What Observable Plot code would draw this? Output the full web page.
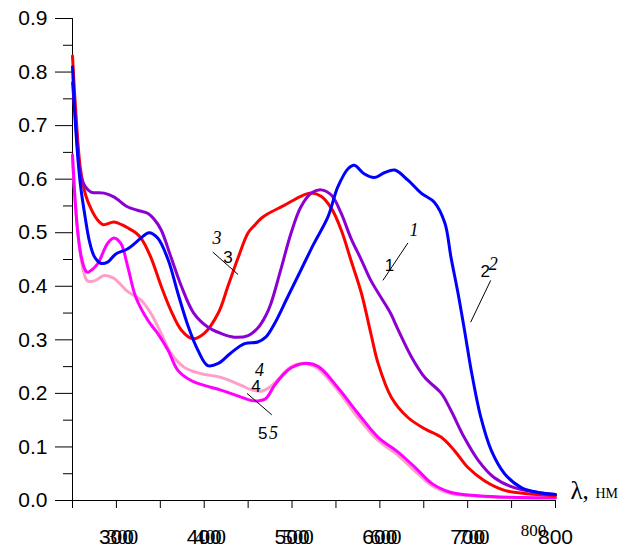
<!DOCTYPE html>
<html>
<head>
<meta charset="utf-8">
<script src="https://cdn.jsdelivr.net/npm/d3@7"></script>
<script src="https://cdn.jsdelivr.net/npm/@observablehq/plot@0.6"></script>
<style>
  html, body { margin: 0; padding: 0; background: #fff; }
  #chart { width: 630px; height: 553px; }
</style>
</head>
<body>
<div id="chart"></div>
<script>
// Curve 1 (violet)
const wl1 = [250,254,259,265,271,286,297,313,324,336,343,351,362,374,388,404,419,434,450,461,470,476,487,499,510,522,533,545,556,567,579,590,601,612,621,636,651,670,681,696,712,730,753,780,800];
const a1  = [0.78,0.70,0.61,0.585,0.576,0.574,0.567,0.548,0.542,0.536,0.525,0.505,0.455,0.40,0.35,0.324,0.312,0.305,0.308,0.322,0.345,0.368,0.43,0.50,0.548,0.574,0.58,0.57,0.536,0.49,0.449,0.41,0.38,0.35,0.318,0.268,0.23,0.20,0.168,0.118,0.075,0.043,0.024,0.015,0.011];
// Curve 2 (blue)
const wl2 = [250,254,259,265,269,275,282,290,299,313,328,337,347,359,370,382,393,404,416,430,446,461,470,480,495,510,525,541,552,564,571,582,594,605,617,632,647,662,674,681,689,697,704,715,727,742,761,780,800];
const a2  = [0.81,0.686,0.59,0.523,0.486,0.455,0.443,0.445,0.46,0.47,0.49,0.50,0.49,0.449,0.387,0.324,0.28,0.252,0.256,0.275,0.293,0.296,0.305,0.33,0.38,0.43,0.48,0.53,0.585,0.62,0.626,0.61,0.603,0.612,0.617,0.598,0.574,0.557,0.518,0.454,0.387,0.312,0.243,0.155,0.093,0.05,0.024,0.015,0.011];
// Curve 3 (red)
const wl3 = [250,254,259,265,271,278,285,297,306,314,322,328,339,351,362,374,387,400,416,427,439,450,458,465,472,491,510,522,533,545,556,567,579,590,598,613,632,651,670,685,700,719,742,765,800];
const a3  = [0.83,0.72,0.62,0.57,0.545,0.525,0.515,0.52,0.515,0.508,0.50,0.49,0.455,0.40,0.355,0.318,0.302,0.312,0.35,0.40,0.455,0.50,0.515,0.527,0.535,0.551,0.568,0.574,0.568,0.545,0.505,0.449,0.387,0.31,0.256,0.193,0.155,0.134,0.118,0.093,0.062,0.037,0.019,0.013,0.009];
// Curve 4 (light pink)
const wl4 = [250,254,259,263,267,275,286,297,313,328,339,351,362,377,396,419,442,453,465,475,484,497,510,520,530,552,575,598,621,640,659,681,712,750,800];
const a4  = [0.64,0.54,0.46,0.425,0.41,0.41,0.42,0.415,0.39,0.374,0.35,0.312,0.275,0.249,0.237,0.23,0.215,0.207,0.204,0.212,0.226,0.248,0.256,0.254,0.246,0.206,0.155,0.112,0.084,0.055,0.028,0.013,0.008,0.005,0.004];
// Curve 5 (magenta)
const wl5 = [250,253,256,260,264,267,273,279,290,297,305,313,322,336,347,359,370,385,400,419,442,453,462,470,480,490,499,514,530,552,575,598,621,640,659,681,712,750,800];
const a5  = [0.645,0.56,0.50,0.455,0.432,0.426,0.432,0.443,0.48,0.49,0.48,0.436,0.38,0.336,0.312,0.28,0.243,0.224,0.215,0.206,0.193,0.187,0.186,0.19,0.215,0.235,0.248,0.256,0.25,0.211,0.163,0.118,0.09,0.062,0.032,0.015,0.009,0.006,0.005];

const seriesNames  = ["1","2","3","4","5"];
const seriesColors = ["#8c00d2","#0000ff","#ff0000","#ff9ec8","#ff00ff"];

// tick labels
const yMajor = [0,0.1,0.2,0.3,0.4,0.5,0.6,0.7,0.8,0.9];
const yMinor = [0.05,0.15,0.25,0.35,0.45,0.55,0.65,0.75,0.85];
const xTicks = [250,300,350,400,450,500,550,600,650,700,750,800];
const xLabels = [300,400,500,600,700,800];

// curve labels (upright sans and italic serif copies) and leader lines
const labUpright = [{t:"1",x:611,y:0.439},{t:"2",x:720,y:0.427},{t:"3",x:427,y:0.454},{t:"4",x:459,y:0.212},{t:"5",x:466.5,y:0.125}];
const labItalic  = [{t:"1",x:639,y:0.505},{t:"2",x:729,y:0.441},{t:"3",x:414.5,y:0.49},{t:"4",x:462.8,y:0.243},{t:"5",x:479,y:0.125}];
const leaders = [
  {x1:603.5,y1:0.411,x2:632,y2:0.481},
  {x1:703.4,y1:0.333,x2:726.2,y2:0.411},
  {x1:409.7,y1:0.464,x2:438.5,y2:0.422},
  {x1:448.7,y1:0.200,x2:476.9,y2:0.160}
];

const curves = [[wl1,a1],[wl2,a2],[wl3,a3],[wl4,a4],[wl5,a5]];
const table = [];
curves.forEach(([w,a],i) => w.forEach((x,j) => table.push({series: seriesNames[i], x, y: a[j]})));
// draw order: pink under magenta
const order = ["4","5","3","1","2"];

const lineMarks = order.map(s => Plot.line(table.filter(d => d.series === s), {
  x: "x", y: "y", stroke: seriesColors[seriesNames.indexOf(s)], strokeWidth: 3, curve: "catmull-rom"
}));

const sans = "Arial, 'Liberation Sans', sans-serif";
const serif = "'Times New Roman', 'Liberation Serif', serif";

const chart = Plot.plot({
  width: 630,
  height: 553,
  marginLeft: 72,
  marginRight: 75,
  marginTop: 18,
  marginBottom: 53,
  style: {fontFamily: sans, background: "#fff", color: "#000"},
  x: {domain: [250, 800]},
  y: {domain: [0, 0.9]},
  marks: [
    Plot.axisY({ticks: yMajor, tickSize: 17, tickPadding: 8, tickFormat: d3.format(".1f"), fontSize: 21, label: null, stroke: "#000"}),
    Plot.axisY({ticks: yMinor, tickSize: 9, tickFormat: () => "", label: null}),
    Plot.axisX({ticks: xTicks, tickSize: 8, tickPadding: 21, fontSize: 21, label: null,
      tickFormat: d => (d % 100 === 0 && d > 250) ? String(d) : ""}),
    Plot.text(xLabels.filter(d => d < 800), {x: d => d, y: 0, dy: 37, dx: 6, text: d => String(d), fontSize: 21, fontFamily: serif, lineAnchor: "middle"}),
    Plot.text([800], {x: d => d, y: 0, dy: 30, dx: -22, text: d => String(d), fontSize: 17, fontFamily: serif, lineAnchor: "middle"}),
    Plot.ruleX([250], {y1: 0, y2: 0.9, stroke: "#000", strokeWidth: 1}),
    Plot.ruleY([0], {stroke: "#000", strokeWidth: 1}),
    ...lineMarks,
    Plot.link(leaders, {x1: "x1", y1: "y1", x2: "x2", y2: "y2", stroke: "#000", strokeWidth: 1}),
    Plot.text(labUpright, {x: "x", y: "y", text: "t", fontSize: 17, fontFamily: sans}),
    Plot.text(labItalic, {x: "x", y: "y", text: "t", fontSize: 18, fontFamily: serif, fontStyle: "italic"}),
    Plot.text(["λ,"], {x: 800, y: 0, dx: 15, dy: -2, text: d => d, textAnchor: "start", lineAnchor: "bottom", fontSize: 25, fontFamily: serif}),
    Plot.text(["нм"], {x: 800, y: 0, dx: 40, dy: -3, text: d => d, textAnchor: "start", lineAnchor: "bottom", fontSize: 20, fontFamily: serif, fontVariant: "small-caps", letterSpacing: "1.5px"})
  ]
});
document.getElementById("chart").appendChild(chart);
</script>
</body>
</html>
